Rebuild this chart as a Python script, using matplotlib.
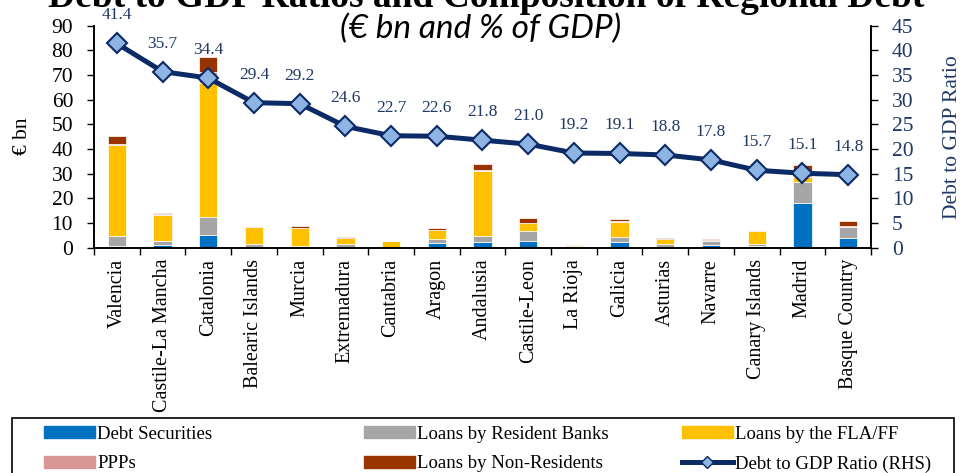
import matplotlib as mpl
mpl.use('Agg')
import matplotlib.pyplot as plt
from matplotlib.patches import Rectangle
from matplotlib.lines import Line2D
import numpy as np

# data (EUR bn stacks, % of GDP line)
regions = ['Valencia', 'Castile-La Mancha', 'Catalonia', 'Balearic Islands', 'Murcia',
           'Extremadura', 'Cantabria', 'Aragon', 'Andalusia', 'Castile-Leon', 'La Rioja',
           'Galicia', 'Asturias', 'Navarre', 'Canary Islands', 'Madrid', 'Basque Country']
debt_sec = [0.6, 1.0, 5.1, 0.2, 0.1, 0.1, 0.0, 1.9, 2.4, 2.8, 0.1, 2.4, 0.1, 1.2, 0.7, 18.3, 4.1]
res_banks = [4.0, 1.6, 7.5, 1.4, 0.6, 1.4, 0.1, 1.5, 2.5, 4.0, 0.7, 1.8, 1.5, 1.4, 0.7, 8.2, 4.4]
fla_ff = [37.0, 10.8, 54.0, 6.7, 7.2, 2.4, 2.5, 3.6, 26.3, 3.1, 0.4, 6.1, 1.8, 0.3, 5.4, 2.0, 0.0]
ppps = [0.6, 0.2, 4.7, 0.4, 0.2, 0.2, 0.2, 0.3, 0.4, 0.2, 0.3, 0.5, 0.2, 0.2, 0.2, 1.0, 0.2]
non_res = [3.1, 0.6, 5.9, 0.0, 0.6, 0.4, 0.0, 0.7, 2.2, 1.8, 0.0, 0.8, 0.5, 0.4, 0.0, 4.0, 2.0]
ratio = [41.4, 35.7, 34.4, 29.4, 29.2, 24.6, 22.7, 22.6, 21.8, 21.0, 19.2, 19.1, 18.8, 17.8,
         15.7, 15.1, 14.8]

series = [('Debt Securities', debt_sec, '#0070C0'),
          ('Loans by Resident Banks', res_banks, '#A6A6A6'),
          ('Loans by the FLA/FF', fla_ff, '#FFC000'),
          ('PPPs', ppps, '#DA9694'),
          ('Loans by Non-Residents', non_res, '#993300')]

navy = '#0B2A66'
label_navy = '#1F3864'
serif = 'Liberation Serif'

fig = plt.figure(figsize=(9.62, 4.73), dpi=100)
ax1 = fig.add_axes([0.0977, 0.4763, 0.8077, 0.4693])
ax2 = ax1.twinx()

x = np.arange(len(regions))
bottom = np.zeros(len(regions))
for name, vals, col in series:
    ax1.bar(x, vals, 0.4, bottom=bottom, color=col, edgecolor='white', linewidth=0.5,
            label=name, zorder=2)
    bottom = bottom + np.array(vals)

ax2.plot(x, ratio, color=navy, linewidth=3.6, marker='D', markersize=10.5,
         markerfacecolor='#8DB4E2', markeredgecolor=navy, markeredgewidth=1.5, zorder=3)
for xi, r in zip(x, ratio):
    ax2.annotate('%.1f' % r, (xi, r), xytext=(0, 28), textcoords='offset pixels',
                 ha='center', va='center', fontsize=12.5, color=label_navy, family=serif)

# axes
ax1.set_xlim(-0.5, len(regions) - 0.5)
ax1.set_ylim(0, 90)
ax2.set_ylim(0, 45)
ax1.set_yticks(np.arange(0, 91, 10))
ax2.set_yticks(np.arange(0, 46, 5))
ax1.set_xticks(x)
ax1.set_xticklabels(regions, rotation=90, family=serif, fontsize=14.5)
ax1.set_xticks(np.arange(-0.5, len(regions), 1), minor=True)
ax1.tick_params(axis='x', which='major', length=0, pad=8)
ax1.tick_params(axis='x', which='minor', length=5, width=1)
ax1.tick_params(axis='y', length=5, width=1, labelsize=15.5, pad=10)
ax2.tick_params(axis='y', length=5, width=1, labelsize=15.5, labelcolor=label_navy, pad=10)
for lab in ax1.get_yticklabels() + ax2.get_yticklabels():
    lab.set_family(serif)
for a in (ax1, ax2):
    a.spines['top'].set_visible(False)
    for s in a.spines.values():
        s.set_linewidth(1.2)

ax1.set_ylabel('€ bn', family=serif, fontsize=15.5, labelpad=14)
ax2.set_ylabel('Debt to GDP Ratio', family=serif, fontsize=15.5, color=label_navy, labelpad=21)

# title (top part is cut off in the original) and subtitle
fig.text(0.505, 0.985, 'Debt to GDP Ratios and Composition of Regional Debt', ha='center',
         va='baseline', fontsize=27, fontweight='bold', family=serif)
fig.text(0.5, 0.938, '(€ bn and % of GDP)', ha='center', va='center', fontsize=24,
         style='italic', family='Lato')

# legend box at bottom, three columns placed like the original
fig.patches.append(Rectangle((12 / 962, -0.05), 942 / 962, 0.05 + 55 / 473,
                             transform=fig.transFigure, fill=False, edgecolor='black',
                             linewidth=1.2))
handles = [Rectangle((0, 0), 1, 1, color=c) for _, _, c in series]
line_h = Line2D([], [], color=navy, linewidth=3.6, marker='D', markersize=6.5,
                markerfacecolor='#8DB4E2', markeredgecolor=navy)
cols = [([handles[0], handles[3]], ['Debt Securities', 'PPPs'], 44),
        ([handles[1], handles[4]], ['Loans by Resident Banks', 'Loans by Non-Residents'], 364),
        ([handles[2], line_h], ['Loans by the FLA/FF', 'Debt to GDP Ratio (RHS)'], 682)]
for hs, ls, px in cols:
    fig.legend(hs, ls, loc='upper left', bbox_to_anchor=(px / 962, 1 - 426 / 473),
               frameon=False, borderpad=0, borderaxespad=0, handlelength=2.7,
               handleheight=0.6, handletextpad=0.15, labelspacing=0.65,
               prop={'family': serif, 'size': 13.5})

plt.savefig('out.png', dpi=100)
plt.close(fig)
